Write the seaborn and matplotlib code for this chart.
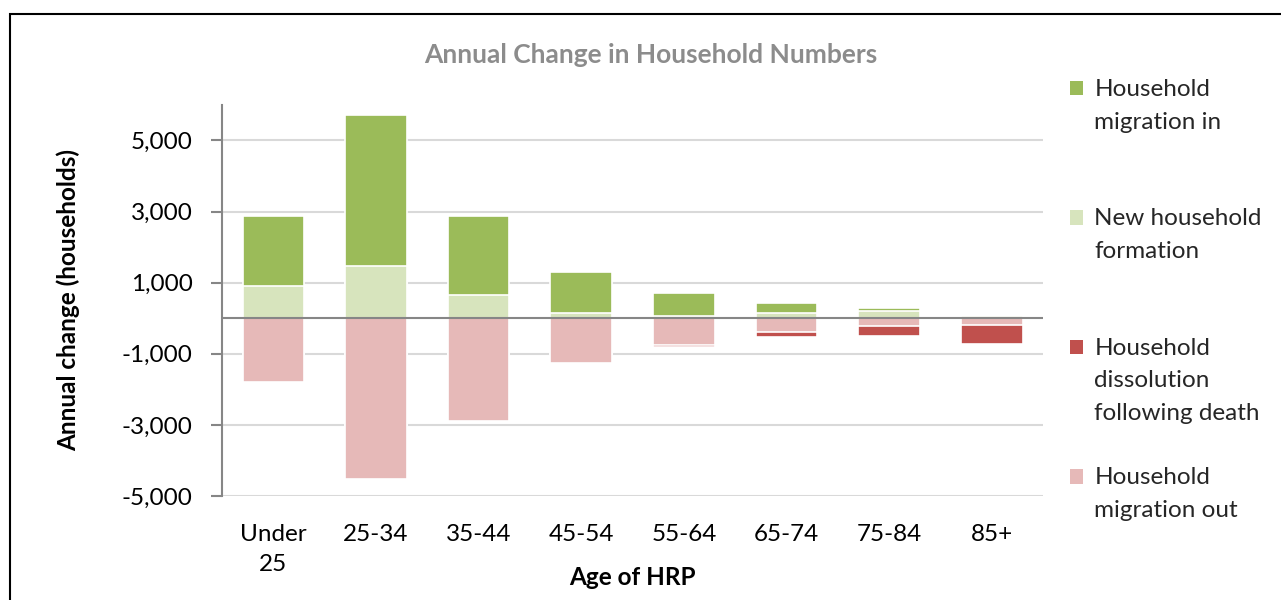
import matplotlib
matplotlib.use("Agg")
import matplotlib.pyplot as plt
import seaborn as sns
import pandas as pd
from matplotlib.patches import Patch, Rectangle
from matplotlib.legend_handler import HandlerPatch

categories = ["Under\n25", "25-34", "35-44", "45-54", "55-64", "65-74", "75-84", "85+"]
new_formation = [900, 1480, 650, 150, 50, 140, 190, 50]
migration_in = [1970, 4240, 2220, 1150, 650, 280, 90, 20]
migration_out = [-1780, -4530, -2900, -1270, -740, -400, -230, -200]
dissolution = [0, 0, 0, 0, -60, -130, -280, -520]

series_labels = ["Household\nmigration in", "New household\nformation",
                 "Household\ndissolution\nfollowing death", "Household\nmigration out"]
colors = ["#9BBB59", "#D7E4BD", "#C0504D", "#E6B9B8"]

df = pd.DataFrame({
    "cat": categories,
    "pos_total": [a + b for a, b in zip(new_formation, migration_in)],
    "formation": new_formation,
    "neg_total": [a + b for a, b in zip(migration_out, dissolution)],
    "out": migration_out,
})

sns.set_theme(style="white")
plt.rcParams["font.family"] = ["Lato", "DejaVu Sans"]

FS = 17.5
LS = 1.68

fig = plt.figure(figsize=(12.81, 6.0), dpi=100)
ax = fig.add_axes([0.1733, 0.1733, 0.641, 0.652])

for col, c in [("pos_total", colors[0]), ("formation", colors[1]),
               ("neg_total", colors[2]), ("out", colors[3])]:
    sns.barplot(data=df, x="cat", y=col, color=c, saturation=1, width=0.6,
                edgecolor="white", linewidth=1.2, ax=ax, zorder=3)

ax.set_ylim(-5000, 6000)
ax.set_xlim(-0.5, len(categories) - 0.5)
yt = [-5000, -3000, -1000, 1000, 3000, 5000]
ax.set_yticks(yt)
ax.set_yticklabels([f"{v:,}" for v in yt])
ax.yaxis.grid(True, color="#D9D9D9", linewidth=1.5, zorder=0)
ax.set_axisbelow(True)
ax.axhline(0, color="#868686", linewidth=1.5, zorder=4)

for s in ["top", "right", "bottom"]:
    ax.spines[s].set_visible(False)
ax.spines["left"].set_color("#868686")
ax.spines["left"].set_linewidth(1.5)
ax.tick_params(axis="y", which="major", direction="out", length=8, width=1.5,
               color="#868686", labelsize=FS, pad=13, labelcolor="black", left=True)
ax.tick_params(axis="x", length=0, labelsize=FS, pad=20, labelcolor="black")
for t in ax.get_xticklabels():
    t.set_linespacing(1.55)
    t.set_multialignment("center")

ax.set_xlabel("Age of HRP", fontsize=FS, fontweight="bold", color="black")
ax.xaxis.set_label_coords(0.5, -0.18)
ax.set_ylabel("Annual change (households)", fontsize=FS, fontweight="bold",
              color="black", labelpad=30)

fig.text(0.508, 0.908, "Annual Change in Household Numbers", ha="center", va="center",
         fontsize=19, fontweight="bold", color="#8C8C8C")


class TopPatch(HandlerPatch):
    def __init__(self, shift):
        super().__init__()
        self.shift = shift

    def create_artists(self, legend, orig_handle, xdescent, ydescent, width, height,
                       fontsize, trans):
        p = Rectangle((-xdescent, -ydescent + self.shift), width, height,
                      facecolor=orig_handle.get_facecolor(), edgecolor="none",
                      transform=trans)
        return [p]


padded = [lab + "\n" * (3 - lab.count("\n") - 1) for lab in series_labels]
handles = [Patch(facecolor=c, edgecolor="none") for c in colors]
leg = fig.legend(handles, padded, loc="upper left", bbox_to_anchor=(1070 / 1281, 1 - 79 / 600),
                 frameon=False, fontsize=FS, handlelength=0.55, handleheight=0.55,
                 handletextpad=0.45, labelspacing=1.78, borderpad=0, borderaxespad=0,
                 handler_map={Patch: TopPatch(24.4)})
for t in leg.get_texts():
    t.set_linespacing(LS)

fig.add_artist(Rectangle((10 / 1281, -0.1), 1.2, 1 - 14 / 600 + 0.1,
                         transform=fig.transFigure, fill=False, edgecolor="black",
                         linewidth=1.5))

fig.savefig("out.png", dpi=100)
